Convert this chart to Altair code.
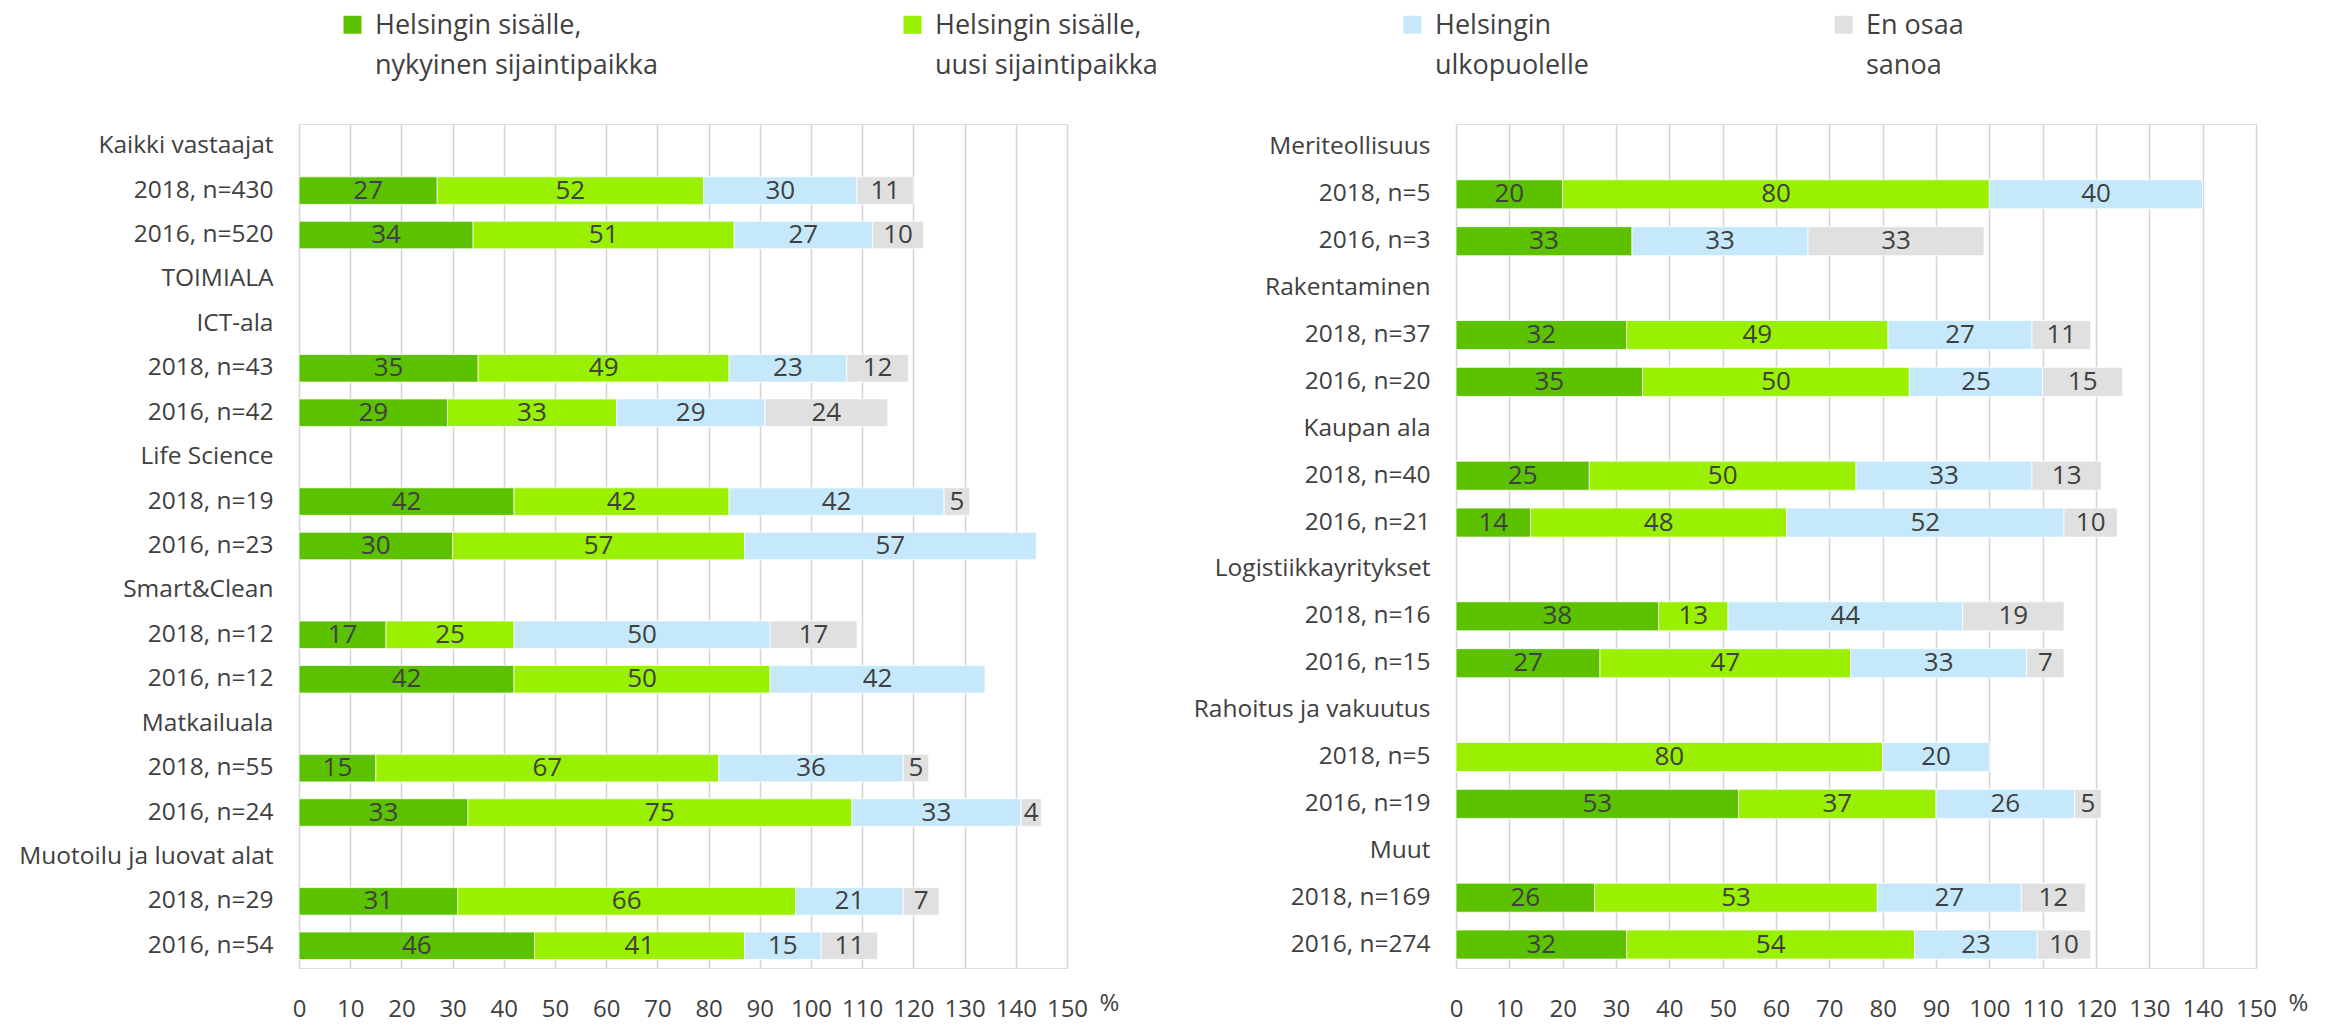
import altair as alt
import pandas as pd

FONT = "Open Sans"
TEXT = "#404040"

series = [
    "Helsingin sisälle,\nnykyinen sijaintipaikka",
    "Helsingin sisälle,\nuusi sijaintipaikka",
    "Helsingin\nulkopuolelle",
    "En osaa\nsanoa",
]
colors = ["#5CC200", "#99F000", "#C5E9FB", "#E0E0E0"]

rows_left = [
    "Kaikki vastaajat", "2018, n=430", "2016, n=520",
    "TOIMIALA",
    "ICT-ala", "2018, n=43", "2016, n=42",
    "Life Science", "2018, n=19", "2016, n=23",
    "Smart&Clean", "2018, n=12", "2016, n=12",
    "Matkailuala", "2018, n=55", "2016, n=24",
    "Muotoilu ja luovat alat", "2018, n=29", "2016, n=54",
]
left_nykyinen = [None, 27, 34, None, None, 35, 29, None, 42, 30, None, 17, 42, None, 15, 33, None, 31, 46]
left_uusi     = [None, 52, 51, None, None, 49, 33, None, 42, 57, None, 25, 50, None, 67, 75, None, 66, 41]
left_ulko     = [None, 30, 27, None, None, 23, 29, None, 42, 57, None, 50, 42, None, 36, 33, None, 21, 15]
left_eos      = [None, 11, 10, None, None, 12, 24, None, 5, None, None, 17, None, None, 5, 4, None, 7, 11]

rows_right = [
    "Meriteollisuus", "2018, n=5", "2016, n=3",
    "Rakentaminen", "2018, n=37", "2016, n=20",
    "Kaupan ala", "2018, n=40", "2016, n=21",
    "Logistiikkayritykset", "2018, n=16", "2016, n=15",
    "Rahoitus ja vakuutus", "2018, n=5\u200b", "2016, n=19",
    "Muut", "2018, n=169", "2016, n=274",
]
right_nykyinen = [None, 20, 33, None, 32, 35, None, 25, 14, None, 38, 27, None, None, 53, None, 26, 32]
right_uusi     = [None, 80, None, None, 49, 50, None, 50, 48, None, 13, 47, None, 80, 37, None, 53, 54]
right_ulko     = [None, 40, 33, None, 27, 25, None, 33, 52, None, 44, 33, None, 20, 26, None, 27, 23]
right_eos      = [None, None, 33, None, 11, 15, None, 13, 10, None, 19, 7, None, None, 5, None, 12, 10]


def long_table(rows, cols):
    recs = []
    for i, row in enumerate(rows):
        for k, (name, vals) in enumerate(zip(series, cols)):
            if vals[i] is not None:
                recs.append({"row": row, "series": name, "k": k, "value": vals[i]})
    return pd.DataFrame(recs)


df_left = long_table(rows_left, [left_nykyinen, left_uusi, left_ulko, left_eos])
df_right = long_table(rows_right, [right_nykyinen, right_uusi, right_ulko, right_eos])

legend = alt.Legend(
    title=None,
    orient="none",
    legendX=40,
    legendY=-104,
    direction="horizontal",
    columns=4,
    labelExpr="split(datum.label, '\\n')",
    labelFont=FONT,
    labelFontSize=27,
    labelColor=TEXT,
    labelBaseline="alphabetic",
    labelOffset=9,
    labelLimit=600,
    symbolType="M-1,-2L1,-2L1,0L-1,0Z",
    symbolSize=324,
    symbolStrokeWidth=0,
    columnPadding=241,
)


def panel(df, rows, width):
    base = alt.Chart(df).transform_stack(
        stack="value", groupby=["row"], as_=["x0", "x1"],
        sort=[alt.SortField("k", order="ascending")],
    ).transform_calculate(mid="(datum.x0 + datum.x1) / 2")

    xaxis = alt.Axis(
        values=list(range(0, 151, 10)),
        title="%",
        titleX=width + 42,
        titleY=42,
        titleAngle=0,
        titleAlign="center",
        titleBaseline="alphabetic",
        titleFont=FONT,
        titleFontSize=24,
        titleFontWeight="normal",
        titleColor=TEXT,
        grid=True,
        gridColor="#D4D4D4",
        gridWidth=1.5,
        domain=False,
        ticks=False,
        labelPadding=29,
        labelFont=FONT,
        labelFontSize=24,
        labelColor=TEXT,
        labelFlush=False,
        labelOverlap=False,
    )
    yaxis = alt.Axis(
        title=None, ticks=False, domain=False, grid=False,
        labelPadding=26, labelFont=FONT, labelFontSize=24.5,
        labelColor=TEXT, labelLimit=500,
    )
    y = alt.Y("row:N", sort=rows,
              scale=alt.Scale(domain=rows, paddingInner=0.38, paddingOuter=0.19),
              axis=yaxis)
    xscale = alt.Scale(domain=[0, 150], nice=False, zero=True)

    bars = base.mark_bar(stroke="white", strokeWidth=0.75).encode(
        x=alt.X("x0:Q", scale=xscale, axis=xaxis),
        x2="x1:Q",
        y=y,
        color=alt.Color("series:N", scale=alt.Scale(domain=series, range=colors), legend=legend),
    )
    text = base.mark_text(font=FONT, fontSize=26, color=TEXT).encode(
        x=alt.X("mid:Q", scale=xscale, title="%"),
        y=alt.Y("row:N", sort=rows),
        text=alt.Text("value:Q"),
    )
    return alt.layer(bars, text).properties(width=width, height=844)


chart = alt.hconcat(
    panel(df_left, rows_left, 768),
    panel(df_right, rows_right, 800),
    spacing=72,
).properties(
    padding={"left": 10, "top": 12, "right": 5, "bottom": 0},
).configure_view(
    stroke=None
).configure(
    style={"guide-label": {"lineHeight": 40}}
)

chart.save("out.html", embed_options={"renderer": "svg", "actions": False})
